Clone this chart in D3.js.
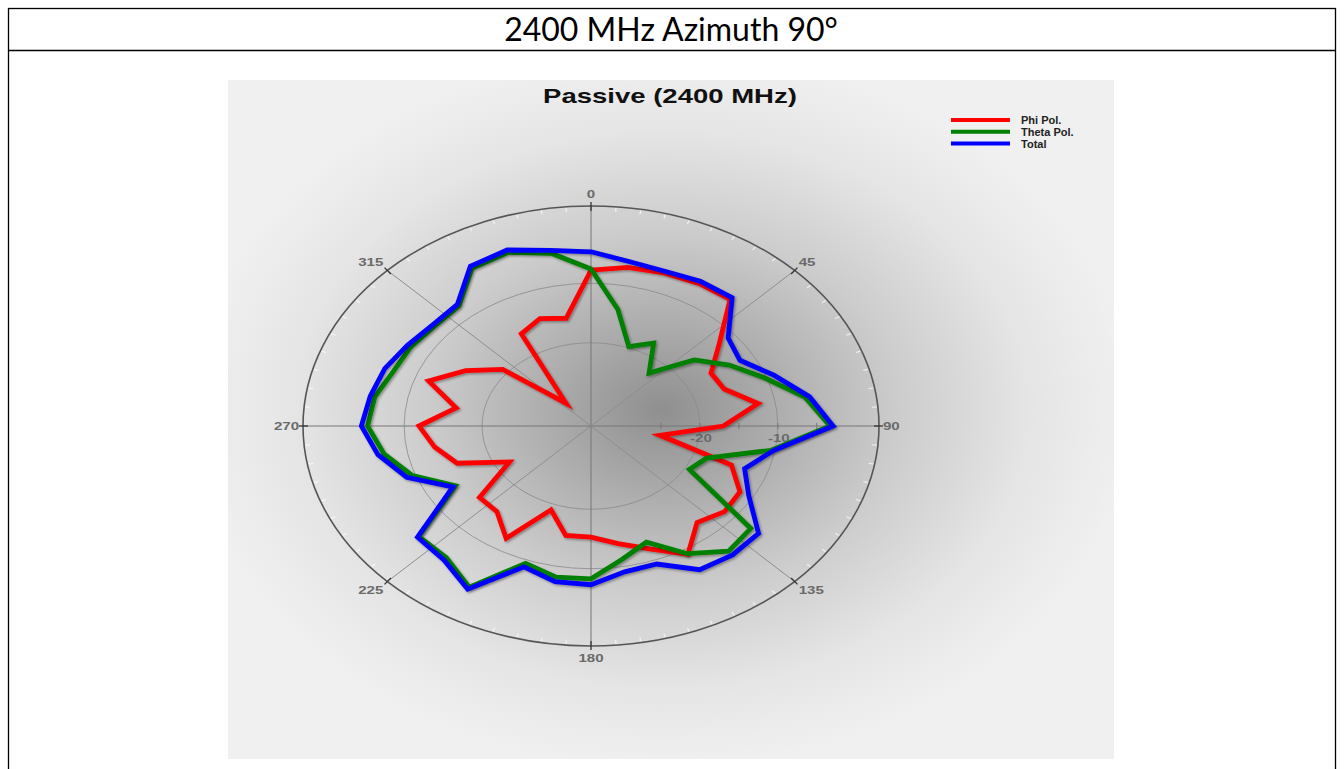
<!DOCTYPE html>
<html>
<head>
<meta charset="utf-8">
<script src="https://cdn.jsdelivr.net/npm/d3@7"></script>
<style>
  body { margin: 0; background: #fff; }
  svg { display: block; }
</style>
</head>
<body>
<svg id="chart" width="1344" height="769"></svg>
<script>
// azimuth angles (degrees, clockwise from top)
var angles = [0, 10, 20, 30, 40, 50, 60, 70, 80, 90, 100, 110, 120, 130, 140, 150, 160, 170,
  180, 190, 200, 210, 220, 230, 240, 250, 260, 270, 280, 290, 300, 310, 320, 330, 340, 350];

// gain values (dB)
var phiPol = [-7.8, -6.9, -6.6, -6.3, -6.2, -12.5, -16.2, -15.8, -12.2, -17.0, -25.0, -14.8,
  -11.9, -11.6, -12.8, -9.1, -12.0, -13.9, -15.3, -15.3, -19.0, -12.2, -15.2, -15.3,
  -21.9, -15.7, -13.6, -11.9, -16.4, -11.8, -15.4, -19.2, -29.0, -16.1, -14.8, -15.6];
var thetaPol = [-7.6, -14.1, -19.8, -17.9, -22.4, -16.7, -13.5, -10.3, -6.1, -3.3, -10.5, -18.2,
  -19.4, -7.2, -6.5, -9.2, -13.2, -11.2, -8.3, -8.2, -9.4, -2.7, -5.1, -5.1,
  -13.9, -9.6, -7.0, -5.3, -5.8, -7.0, -7.3, -7.8, -7.6, -3.4, -2.9, -4.5];
var total = [-4.7, -5.9, -6.3, -5.9, -5.8, -11.0, -11.9, -9.0, -5.5, -2.9, -10.2, -13.0,
  -10.6, -5.9, -5.7, -6.1, -9.3, -9.1, -7.3, -7.4, -8.8, -2.3, -4.6, -4.9,
  -13.5, -8.8, -6.2, -4.5, -5.2, -5.8, -6.8, -7.5, -7.3, -3.0, -2.5, -4.0];

var seriesNames = ["Phi Pol.", "Theta Pol.", "Total"];
var seriesColors = ["#ff0000", "#008000", "#0000ff"];

var angleLabels = [0, 45, 90, 135, 180, 225, 270, 315];
var ringValues = [-20, -10];
var ringLabels = ["-20", "-10"];
var minorTickValues = [-25, -15, -5];

// the chart picture is stretched sideways, so its texts are too
var stretch = 1.31;

var svg = d3.select("#chart");

// page frame + heading
svg.append("rect")
  .attr("x", 8.5).attr("y", 8.5)
  .attr("width", 1327).attr("height", 780)
  .attr("fill", "none").attr("stroke", "#000").attr("stroke-width", 1.3);
svg.append("line")
  .attr("x1", 8).attr("x2", 1336).attr("y1", 50.5).attr("y2", 50.5)
  .attr("stroke", "#000").attr("stroke-width", 1.3);
svg.append("text")
  .attr("x", 671).attr("y", 41)
  .attr("text-anchor", "middle")
  .attr("font-family", "Lato, 'Open Sans', sans-serif")
  .attr("font-size", 32)
  .attr("fill", "#000")
  .text("2400 MHz Azimuth 90°");

// plot area with radial shading
var defs = svg.append("defs");
var grad = defs.append("radialGradient")
  .attr("id", "bg")
  .attr("gradientUnits", "userSpaceOnUse")
  .attr("cx", 662).attr("cy", 410).attr("r", 470)
  .attr("gradientTransform", "translate(662,410) scale(1,0.76) translate(-662,-410)");
grad.append("stop").attr("offset", 0).attr("stop-color", "#8f8f8f");
grad.append("stop").attr("offset", 0.22).attr("stop-color", "#aaaaaa");
grad.append("stop").attr("offset", 0.5).attr("stop-color", "#cccccc");
grad.append("stop").attr("offset", 0.78).attr("stop-color", "#e5e5e5");
grad.append("stop").attr("offset", 1).attr("stop-color", "#f0f0f0");

var shadow = defs.append("filter").attr("id", "shadow")
  .attr("x", "-10%").attr("y", "-10%").attr("width", "120%").attr("height", "120%");
shadow.append("feDropShadow")
  .attr("dx", 1.5).attr("dy", 1.5).attr("stdDeviation", 1)
  .attr("flood-color", "#000").attr("flood-opacity", 0.35);

svg.append("rect")
  .attr("x", 228).attr("y", 80)
  .attr("width", 886).attr("height", 679)
  .attr("fill", "url(#bg)");

// stretched text helper
function wideText(parent, x, y, str, size, color, anchor, sx) {
  return parent.append("text")
    .attr("transform", "translate(" + x + "," + y + ") scale(" + (sx || stretch) + ",1)")
    .attr("text-anchor", anchor || "middle")
    .attr("font-family", "Arial, 'Liberation Sans', sans-serif")
    .attr("font-weight", "bold")
    .attr("font-size", size)
    .attr("fill", color)
    .text(str);
}

wideText(svg, 670, 103, "Passive (2400 MHz)", 21, "#111");

// polar geometry (the plot is stretched into an ellipse)
var cx = 591, cy = 426, rx = 288, ry = 220;
var r = d3.scaleLinear().domain([-34, 3]).range([0, 1]);
var rad = function(a) { return a * Math.PI / 180; };
function px(a, v) { return cx + Math.sin(rad(a)) * r(v) * rx; }
function py(a, v) { return cy - Math.cos(rad(a)) * r(v) * ry; }

var grid = svg.append("g");

// rings
grid.selectAll(".ring")
  .data(ringValues)
  .enter()
  .append("ellipse")
  .attr("cx", cx).attr("cy", cy)
  .attr("rx", function(d) { return r(d) * rx; })
  .attr("ry", function(d) { return r(d) * ry; })
  .attr("fill", "none")
  .attr("stroke", "#8a8a8a")
  .attr("stroke-opacity", 0.8)
  .attr("stroke-width", 1);

// spokes every 45 degrees
grid.selectAll(".spoke")
  .data(angleLabels)
  .enter()
  .append("line")
  .attr("x1", cx).attr("y1", cy)
  .attr("x2", function(d) { return px(d, 3); })
  .attr("y2", function(d) { return py(d, 3); })
  .attr("stroke", function(d) { return d % 90 == 0 ? "#777" : "#8e8e8e"; })
  .attr("stroke-width", 1);

// minor ticks on the 90 degree axis
grid.selectAll(".rtick")
  .data(minorTickValues.concat(ringValues))
  .enter()
  .append("line")
  .attr("x1", function(d) { return px(90, d); })
  .attr("x2", function(d) { return px(90, d); })
  .attr("y1", cy - 3).attr("y2", cy + 3)
  .attr("stroke", "#777").attr("stroke-width", 1);

// white minor ticks round the outer ring
grid.selectAll(".wtick")
  .data(d3.range(0, 360, 5).filter(function(d) { return d % 45 != 0; }))
  .enter()
  .append("line")
  .attr("x1", function(d) { return cx + Math.sin(rad(d)) * (rx - 6); })
  .attr("y1", function(d) { return cy - Math.cos(rad(d)) * (ry - 5); })
  .attr("x2", function(d) { return cx + Math.sin(rad(d)) * (rx - 1); })
  .attr("y2", function(d) { return cy - Math.cos(rad(d)) * (ry - 1); })
  .attr("stroke", "#fff").attr("stroke-opacity", 0.7).attr("stroke-width", 1.2);

// outer ring
grid.append("ellipse")
  .attr("cx", cx).attr("cy", cy).attr("rx", rx).attr("ry", ry)
  .attr("fill", "none").attr("stroke", "#555").attr("stroke-width", 1.6);

// major ticks
grid.selectAll(".mtick")
  .data(angleLabels)
  .enter()
  .append("line")
  .attr("x1", function(d) { return cx + Math.sin(rad(d)) * (rx - 5); })
  .attr("y1", function(d) { return cy - Math.cos(rad(d)) * (ry - 5); })
  .attr("x2", function(d) { return cx + Math.sin(rad(d)) * (rx + 4); })
  .attr("y2", function(d) { return cy - Math.cos(rad(d)) * (ry + 4); })
  .attr("stroke", "#333").attr("stroke-width", 1.3);

// angle labels: left side ends at the tick, right side starts at it
angleLabels.forEach(function(d) {
  var s = Math.sin(rad(d)), c = Math.cos(rad(d));
  var tx = cx + s * rx, ty = cy - c * ry;
  var anchor = s > 0.01 ? "start" : (s < -0.01 ? "end" : "middle");
  var x = tx + (s > 0.01 ? 4 : (s < -0.01 ? -4 : 0));
  var y = ty + 4 - c * 12;
  wideText(grid, x, y, d, 11.5, "#6a6a6a", anchor);
});

// ring labels
ringValues.forEach(function(d, i) {
  wideText(grid, px(90, d) + 1, cy + 16, ringLabels[i], 11.5, "#6a6a6a");
});

// traces
var series = [phiPol, thetaPol, total];
var line = d3.line()
  .x(function(d, i) { return px(angles[i], d); })
  .y(function(d, i) { return py(angles[i], d); })
  .curve(d3.curveLinearClosed);

svg.append("g")
  .selectAll("path")
  .data(series)
  .enter()
  .append("path")
  .attr("d", line)
  .attr("fill", "none")
  .attr("stroke", function(d, i) { return seriesColors[i]; })
  .attr("stroke-width", 4.8)
  .attr("stroke-linejoin", "miter")
  .attr("filter", "url(#shadow)");

// legend
var legend = svg.append("g").attr("transform", "translate(951,120)");
seriesNames.forEach(function(name, i) {
  legend.append("line")
    .attr("x1", 0).attr("x2", 59).attr("y1", i * 11.8).attr("y2", i * 11.8)
    .attr("stroke", seriesColors[i])
    .attr("stroke-width", 4);
  wideText(legend, 70, i * 11.8 + 4, name, 10.5, "#222", "start", 1.05);
});
</script>
</body>
</html>
